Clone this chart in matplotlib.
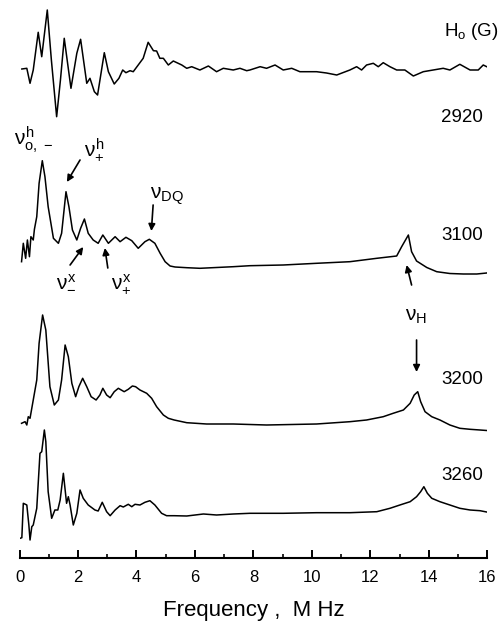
#!/usr/bin/env python3
# stacked ENDOR-type spectra at four field values, offset vertically,
# only the frequency axis is drawn.

import matplotlib
matplotlib.use("Agg")
import matplotlib.pyplot as plt

plt.rcParams["font.family"] = ["Liberation Sans", "DejaVu Sans"]
plt.rcParams["mathtext.fontset"] = "custom"
plt.rcParams["mathtext.rm"] = "Liberation Sans"
plt.rcParams["mathtext.it"] = "Liberation Sans"

FIELDS = ["2920", "3100", "3200", "3260"]

# frequency (MHz) / intensity (arb. units, relative to each baseline)
f_2920 = [0.08, 0.25, 0.36, 0.47, 0.64, 0.76, 0.95, 1.09, 1.27, 1.40, 1.53, 1.76,
          1.96, 2.09, 2.30, 2.41, 2.56, 2.67, 2.90, 3.04, 3.24, 3.40, 3.53, 3.64,
          3.78, 3.89, 4.06, 4.23, 4.40, 4.58, 4.69, 4.80, 4.92, 5.09, 5.26, 5.55,
          5.72, 5.89, 6.17, 6.46, 6.74, 6.97, 7.31, 7.54, 7.77, 7.88, 8.23, 8.45,
          8.74, 9.02, 9.31, 9.59, 10.16, 10.50, 10.85, 11.30, 11.53, 11.70, 11.87,
          12.10, 12.27, 12.44, 12.67, 12.90, 13.18, 13.47, 13.81, 14.15, 14.49,
          14.72, 15.06, 15.41, 15.69, 15.86, 15.98, 16.09]
i_2920 = [0, 0.7, -14.3, -1, 36.7, 12.3, 59, 9, -47.7, -11, 30.7, -19.3,
          15.7, 29.7, -14.3, -9.3, -22.7, -26, 16.3, -2.7, -15, -9.3, -1, -3.7,
          -1.7, -2.7, 4, 10.7, 26.7, 18.3, 18, 10.7, 10.7, 4, 8, 4,
          0.7, 2.3, -1, 3, -2.7, 0.7, -1, 0.7, -1.7, -1, 2.3, 0.7,
          4, -1, 0.7, -2.7, -2.7, -4, -6, -1, 2.3, -1, 4,
          5.7, 2.3, 6.3, 2.3, -1, -1, -7, -2.7, -1, 0.7,
          -1, 4.7, -1, -1, 4, 2.3, 0.7]

f_3100 = [0.07, 0.13, 0.21, 0.27, 0.34, 0.39, 0.47, 0.51, 0.59, 0.67, 0.78, 0.87,
          0.98, 1.16, 1.33, 1.44, 1.59, 1.69, 1.81, 1.96, 2.09, 2.22, 2.35, 2.52,
          2.69, 2.85, 3.04, 3.27, 3.44, 3.64, 3.84, 4.06, 4.29, 4.44, 4.63, 4.81,
          4.98, 5.15, 5.32, 5.72, 6.17, 7.31, 7.88, 9.02, 10.16, 11.30, 12.22,
          12.90, 13.07, 13.30, 13.41, 13.58, 13.93, 14.27, 14.72, 15.18, 15.64,
          15.98, 16.09]
i_3100 = [4.3, 22.7, 7.7, 26, 9.3, 29.3, 26, 36.7, 49.3, 82.7, 105.3, 89.3,
          59.3, 27.7, 22.7, 32.7, 74.3, 59.3, 36, 26, 37.7, 47, 32.7, 26,
          22.7, 31, 22.7, 29.3, 24.3, 28.7, 25.3, 17.7, 24.3, 26.7, 22.7, 12.7,
          4.3, 0, -1, -1.7, -2.3, -0.7, 0.3, 1, 2.7, 4.3, 7.7,
          10, 19.3, 31, 14.3, 5, -1.5, -5.7, -7.5, -8, -8,
          -7, -5.7]

f_3200 = [0.07, 0.19, 0.25, 0.30, 0.36, 0.47, 0.59, 0.67, 0.79, 0.90, 1.04, 1.19,
          1.33, 1.44, 1.56, 1.67, 1.79, 1.92, 2.03, 2.16, 2.30, 2.45, 2.62, 2.75,
          2.85, 2.98, 3.10, 3.24, 3.38, 3.58, 3.72, 3.86, 3.97, 4.12, 4.35, 4.52,
          4.69, 4.92, 5.09, 5.29, 5.72, 6.40, 7.31, 8.45, 10.16, 11.30, 11.87,
          12.44, 12.78, 13.13, 13.36, 13.50, 13.62, 13.72, 13.87, 14.10, 14.38,
          14.72, 15.06, 15.41, 15.75, 16.07]
i_3200 = [0.7, 2.3, -1, 7.3, 5.7, 24, 44, 80.7, 109, 94, 37.3, 19,
          24, 44, 79, 67.3, 40.7, 27.3, 37.3, 45.7, 37.3, 27.3, 24, 29,
          35.7, 29, 26.3, 32.3, 35.7, 32.3, 34.7, 38, 37.3, 34, 30.7, 25.7,
          17.3, 9, 5.7, 4, 1.3, 0, 0, -1, 0, 2.3, 4,
          7.3, 10.7, 14, 20.7, 29, 32.3, 22.3, 12.3, 7.3, 4,
          -1, -4.3, -5.3, -6, -6.7]

f_3260 = [0.02, 0.08, 0.13, 0.25, 0.32, 0.36, 0.42, 0.47, 0.59, 0.70, 0.76, 0.85,
          0.90, 0.98, 1.10, 1.21, 1.31, 1.39, 1.50, 1.61, 1.67, 1.73, 1.84, 1.96,
          2.07, 2.18, 2.35, 2.58, 2.69, 2.83, 2.98, 3.10, 3.27, 3.44, 3.55, 3.72,
          3.84, 3.95, 4.12, 4.29, 4.46, 4.63, 4.86, 5.03, 5.29, 5.72, 6.29, 6.74,
          7.31, 7.88, 9.02, 10.16, 11.30, 12.22, 12.67, 13.01, 13.36, 13.58, 13.72,
          13.83, 13.95, 14.10, 14.38, 14.72, 15.06, 15.41, 15.75, 16.03]
i_3260 = [-24.3, -23.7, 10.7, 9, -11, -26, -12.7, -11, 5.7, 60.7, 62.3, 84,
          72.3, 22.3, -4.3, 4, 4, 14, 40.7, 10.7, 17.3, 9, -11, 0.7,
          24, 15.7, 9, 4, 3, 11.7, 2.3, -1.7, 4, 8.3, 7, 9.7,
          7.3, 9.7, 9, 11.7, 13.3, 9, 0.7, -1.7, -1.7, -2, 0, -1,
          0, 0.7, 0.7, 1.3, 1.3, 2.3, 5.7, 9, 12.3, 17.3, 22.3,
          27.3, 20.7, 15.7, 12.3, 9, 5.7, 4, 3.3, 1.7]

FREQS = [f_2920, f_3100, f_3200, f_3260]
INTENS = [i_2920, i_3100, i_3200, i_3260]

# vertical stacking of the traces (axis units)
OFFSETS = [489, 292, 134, 44]
LABEL_POS = [(15.13, 441), (15.13, 322), (15.13, 178), (15.13, 82.5)]

fig = plt.figure(figsize=(5.04, 6.25), dpi=100)
ax = fig.add_axes([0.0387, 0.1072, 0.9282, 0.8928])

for f, inten, off in zip(FREQS, INTENS, OFFSETS):
    ax.plot(f, [v + off for v in inten], color="black", lw=1.1)

for name, (x, y) in zip(FIELDS, LABEL_POS):
    ax.text(x, y, name, fontsize=13.5, ha="center", va="center")

ax.text(15.44, 526, r"$\mathrm{H_o}$ (G)", fontsize=13.5, ha="center", va="center")

# peak assignments
labels = [
    (0.50, 418, r"$\nu^{h}_{o,\,-}$"),
    (2.55, 408, r"$\nu^{h}_{+}$"),
    (5.04, 362, r"$\nu_{DQ}$"),
    (1.59, 277, r"$\nu^{x}_{-}$"),
    (3.47, 274, r"$\nu^{x}_{+}$"),
    (13.56, 241, r"$\nu_{H}$"),
]
for x, y, s in labels:
    ax.text(x, y, s, fontsize=15, ha="center", va="center")

arrows = [
    ((2.07, 398), (1.62, 376)),
    ((4.57, 353), (4.51, 327)),
    ((1.73, 293), (2.18, 311)),
    ((3.02, 290), (2.92, 310)),
    ((13.41, 273), (13.24, 293)),
    ((13.58, 218), (13.58, 186)),
]
for tail, head in arrows:
    ax.annotate("", xy=head, xytext=tail,
                arrowprops=dict(arrowstyle="-|>", color="black", lw=1.2,
                                mutation_scale=10, shrinkA=0, shrinkB=0))

ax.set_xlim(0, 16)
ax.set_ylim(0, 558)
for side in ["left", "right", "top"]:
    ax.spines[side].set_visible(False)
ax.spines["bottom"].set_linewidth(1.5)
ax.set_yticks([])
ax.set_xticks(range(0, 17, 2))
ax.set_xticks(range(1, 16, 2), minor=True)
ax.tick_params(axis="x", which="major", direction="in", length=6, width=1.4,
               labelsize=12, pad=8.5)
ax.tick_params(axis="x", which="minor", direction="in", length=3, width=1.2)
ax.set_xlabel("Frequency ,  M Hz", fontsize=16, labelpad=11)

fig.savefig("out.png", dpi=100)
